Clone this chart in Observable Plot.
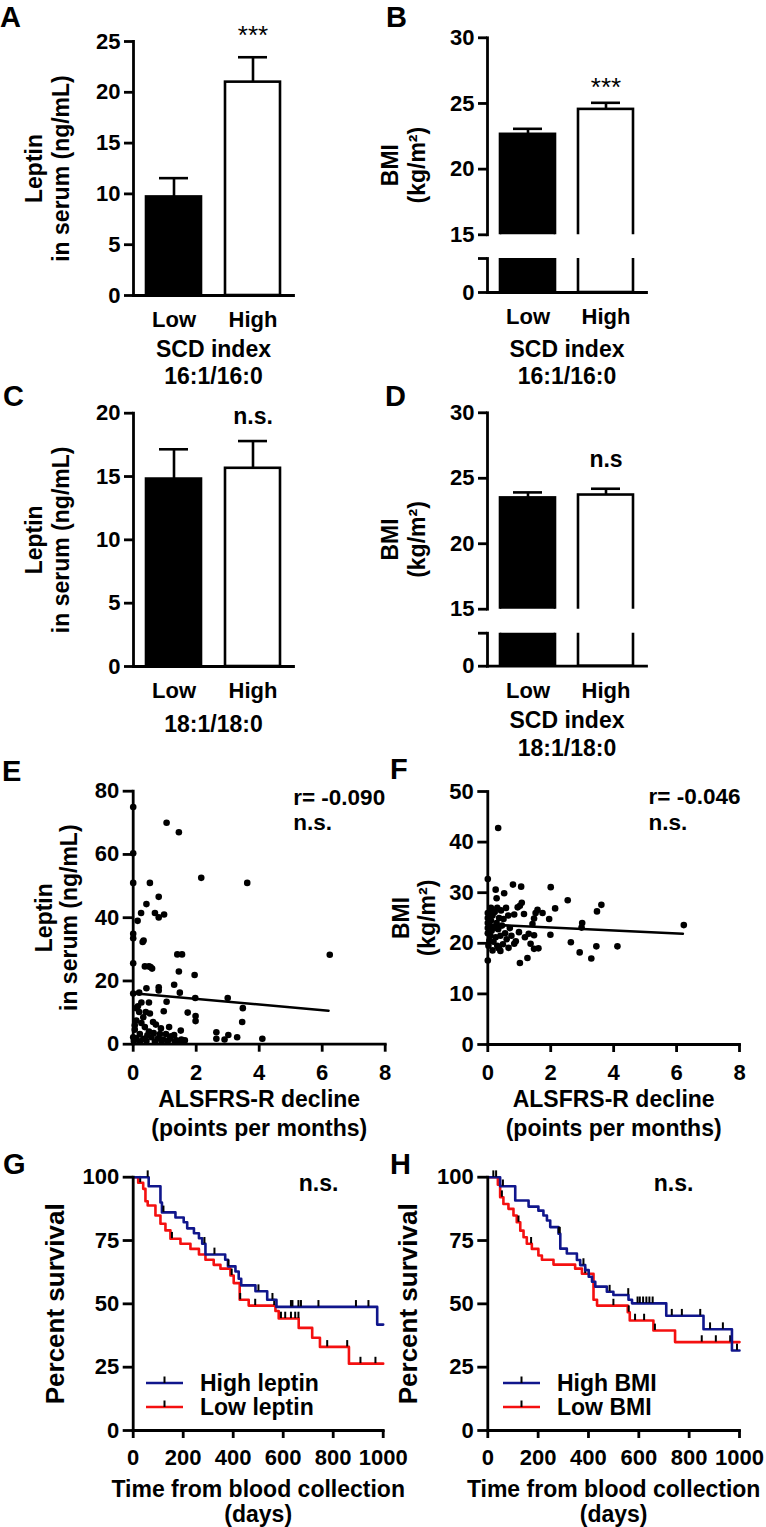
<!DOCTYPE html>
<html><head><meta charset="utf-8">
<script src="https://cdn.jsdelivr.net/npm/d3@7"></script>
<script src="https://cdn.jsdelivr.net/npm/@observablehq/plot@0.6"></script>
<style>
html,body{margin:0;padding:0;background:#fff;}
#fig{position:relative;width:766px;height:1527px;overflow:hidden;font-family:"Liberation Sans",Arial,sans-serif;font-weight:bold;color:#000;background:#fff;}
.panel{position:absolute;}
.panel svg{overflow:visible;background:transparent;max-width:none;}
.letter{position:absolute;font-size:29px;line-height:34px;font-weight:bold;}
.legend{position:absolute;font-size:23px;line-height:24px;font-weight:bold;}
</style></head><body><div id="fig"></div>
<script>
// ---------- data ----------
const groups = ["Low", "High"];
const barFills = ["black", "white"];
const leptin16Mean = [9.7, 21.0];
const leptin16Sem = [1.85, 2.45];
const leptin16Notes = ["", "***"];
const bmi16Mean = [22.65, 24.55];
const bmi16Sem = [0.42, 0.5];
const bmi16Notes = ["", "***"];
const leptin18Mean = [14.8, 15.65];
const leptin18Sem = [2.35, 2.15];
const leptin18Notes = ["", "n.s."];
const bmi18Mean = [23.5, 23.72];
const bmi18Sem = [0.42, 0.48];
const bmi18Notes = ["", "n.s"];
const leptinTicksA = [0, 5, 10, 15, 20, 25];
const leptinTicksC = [0, 5, 10, 15, 20];
const bmiUpperDomain = [15, 30];
const bmiUpperTicks = [15, 20, 25, 30];
const bmiLowerDomain = [0, 2.6];
const bmiLowerTicks = [0, 2.6];

// E: ALSFRS-R decline vs leptin
const eDecline = [0,1.06,1.45,0,0,0.53,2.16,3.62,0.81,0.42,0.25,0.69,0.81,0.98,0.14,0,0,0.3,0.33,0,0.37,0.5,0.6,0.55,1.4,1.55,1.45,1.95,1.3,0.81,0.42,0.81,0.19,0,1.48,1.97,3,0.26,0.5,1.06,3.48,0.1,0.19,0.4,0.53,0.97,1.73,1.98,1.98,3.46,0.1,0.26,0.63,0.72,0.37,1.14,0.05,0.5,1.51,2.64,3.02,0.21,0.85,1.04,1.3,0,0.1,0.32,0.58,0.79,0.95,1.16,1.37,1.53,1.64,2.64,2.9,3.3,4.1,0.02,0.21,0.42,0.69,0.9,1.1,1.32,1.48,6.24,0.15,0.32,0.45,0.65,0.05,1.2,0.88];
const eLeptin = [75,70,67,60.4,51,51,52.6,51,46.6,44.3,41.5,41.5,40.1,41,39,34.9,33.5,32.3,32.8,25.6,24.6,24.6,23.9,24.4,28.4,28.4,23,21.9,18.8,18,17.7,17,16.3,16,16.3,14.6,14.6,13.2,13.2,13.4,11.4,11.4,10.2,10.2,9.7,10.4,10,8.9,7.3,7,7.5,6.7,7,6.2,5.4,5.4,4.6,4,4.3,3.8,2.9,3.2,3.2,3.2,2.9,2.2,1.9,1.7,2.2,1.9,1.5,1.7,1.2,1.5,1.2,1.7,1.5,2.2,1.7,1,0.8,1,0.8,0.8,1,0.8,0.8,28.3,12,8.5,2.8,3.5,6,2.5,5];
const eFitX = [0, 6.2];
const eFitY = [16.1, 10.6];

// F: ALSFRS-R decline vs BMI
const fDecline = [0,0,0.25,0.52,0.8,1.06,2,0.28,2.54,3.61,3.47,2.14,1.02,1.08,0.95,1.58,1.52,1.74,1.47,1.15,0.84,1.95,1.42,3,2.98,0.99,1.3,1.47,1.18,1.99,0.89,0.84,2.64,1.36,1.47,1.61,0.66,0.34,3.45,4.12,2.92,3.29,1.02,1.26,0.15,0.33,6.23,0,0,0,0,0,0.05,0.05,0.08,0.1,0.1,0.12,0.15,0.18,0.2,0.22,0.25,0.28,0.3,0.3,0.33,0.36,0.4,0.42,0.45,0.48,0.5,0.55,0.58,0.6,0.65,0.7,0.75,0.02,0.08,0.35,0.4];
const fBMI = [32.7,16.6,30.6,29.9,31.6,31.2,31.1,28.9,28.5,27.6,26.3,26.9,27.4,28,27.1,26.6,26,26,24.9,25.8,25.7,24.8,23.8,24,23.1,22.2,21.9,21.6,21.2,21.7,20.4,19.9,20.2,19.9,18.9,19,19.1,19.1,19.4,19.4,18.2,17,16.1,17.1,18.6,42.8,23.6,22,23,24,25,26,20.5,23.5,21.5,24.5,27,22.5,25.5,20.3,23,26.2,21.2,24,19.5,27,22.8,25,21.5,26.5,23.5,19.8,24.8,22,27,20.8,25.5,23,21.5,19.5,25.8,19,18.5];
const fFitX = [0, 6.2];
const fFitY = [23.7, 21.9];

// G: survival by leptin
const gSeries = ["High leptin", "Low leptin"];
const gHighT = [0,62,109,115,169,202,216,243,263,276,289,368,379,409,422,432,489,536,573,976,1000];
const gHighS = [100,96.4,90,86.1,84.1,82.2,79.8,77.9,75.9,73.7,69.5,67.4,64.8,62.8,59.9,57.3,55,51.6,48.8,41.8,41.8];
const gHighCens = [58,121,285,325,381,501,557,631,637,661,671,741,891,941];
const gLowT = [0,20,40,49,58,89,109,129,149,189,229,263,289,322,349,389,402,426,462,569,582,662,716,747,863,1000];
const gLowS = [100,97.8,95.4,90.5,88.8,84.9,81.6,79,75.7,73.7,71.7,69.5,67.4,65.4,63.9,61.2,58.2,51.6,49.3,47.2,44.2,40.5,36.6,33,26.4,26.4];
const gLowCens = [28,155,394,428,488,564,591,608,631,648,661,776,856,909,969];

// H: survival by BMI
const hSeries = ["High BMI", "Low BMI"];
const hHighT = [0,49,109,162,201,221,235,248,281,288,314,354,367,387,401,414,427,473,499,559,573,709,857,970,1000];
const hHighS = [100,96.4,90.8,88.4,86.8,84.9,82.9,80.3,77.7,71.8,69.9,67.3,65.3,63.3,60.7,58.7,56.8,54.8,53.5,51.6,50.2,45.3,40,31.6,31.6];
const hHighCens = [22,33,60,282,286,380,484,558,595,604,617,630,642,655,731,771,844,883,934,990];
const hLowT = [0,40,49,62,82,102,115,129,142,155,175,201,215,261,347,374,420,434,556,564,658,744,1000];
const hLowS = [100,97,92.1,89.4,87.5,84.9,82.2,78.9,76.3,73.7,71.7,69.1,67.4,65.5,63.9,61.9,51.6,49.3,46.7,43.4,39.5,34.9,34.9];
const hLowCens = [56,122,172,387,499,560,585,621,664,850,906,963];

const seriesColors = ["#10168c", "#f41010"];
const survTicksX = [0, 200, 400, 600, 800, 1000];
const survTicksY = [0, 25, 50, 75, 100];

// ---------- helpers ----------
const FONT = '"Liberation Sans", Arial, sans-serif';
const fig = document.getElementById("fig");
const AXW = 2.8;
const TICKFONT = 22;
const LABELFONT = 23;
const baseStyle = {fontFamily: FONT, fontWeight: "bold", background: "transparent", overflow: "visible", color: "black"};
const bandX = {type: "band", domain: groups, paddingInner: 0.3, paddingOuter: 0.16};

function place(node, left, top) {
  const d = document.createElement("div");
  d.className = "panel";
  d.style.left = left + "px";
  d.style.top = top + "px";
  d.appendChild(node);
  fig.appendChild(d);
}
// panel letters: line box 34px, cap top sits ~6.2px below the box top
function letter(ch, left, capTop) {
  const d = document.createElement("div");
  d.className = "letter";
  d.textContent = ch;
  d.style.left = left + "px";
  d.style.top = (capTop - 6.2) + "px";
  fig.appendChild(d);
}
function legend(left, top, labels) {
  const d = document.createElement("div");
  d.className = "legend";
  d.style.left = left + "px";
  d.style.top = top + "px";
  labels.forEach((label, i) => {
    const row = document.createElement("div");
    row.style.cssText = "display:flex;align-items:center;height:24px;white-space:nowrap;";
    row.innerHTML = `<svg width="37" height="24" style="overflow:visible"><line x1="0" x2="37" y1="12" y2="12" stroke="${seriesColors[i]}" stroke-width="2.6"/><line x1="18.5" x2="18.5" y1="12" y2="5.5" stroke="black" stroke-width="2"/></svg><span style="margin-left:17px">${label}</span>`;
    d.appendChild(row);
  });
  fig.appendChild(d);
}

function barRows(o) {
  return groups.map((g, i) => ({group: g, mean: o.mean[i], top: o.mean[i] + o.sem[i], fill: barFills[i], note: o.notes[i]}));
}
function errMarks(rows) {
  return [
    Plot.ruleX(rows, {x: "group", y1: "mean", y2: "top", strokeWidth: 2.6}),
    Plot.tickY(rows, {x: "group", y: "top", strokeWidth: 2.6, inset: 13})
  ];
}
function noteMark(rows, o) {
  return Plot.text(rows.filter(d => d.note), {x: "group", y: "top", text: "note", dy: o.noteDy, lineAnchor: "bottom",
    fontSize: o.noteSize, fontWeight: o.noteWeight});
}
function yLabelMark(o, dy = 0) {
  return Plot.text([o.yLabel], {text: d => d, frameAnchor: "left", rotate: -90, dx: o.yLabelDx, dy, textAnchor: "middle",
    lineAnchor: "middle", lineHeight: 1.17, fontSize: LABELFONT});
}
function xLabelMark(o) {
  return Plot.text([o.xLabel], {text: d => d, frameAnchor: "bottom", dy: o.xLabelDy, lineAnchor: "middle",
    lineHeight: 1.19, fontSize: LABELFONT});
}

function barPanel(o) {
  const rows = barRows(o);
  return Plot.plot({
    width: o.width, height: o.height,
    marginLeft: o.mL, marginRight: o.mR, marginTop: o.mT, marginBottom: o.mB,
    x: bandX, y: {domain: [0, o.yMax]}, color: {type: "identity"},
    style: baseStyle,
    marks: [
      ...errMarks(rows),
      Plot.barY(rows, {x: "group", y: "mean", fill: "fill", stroke: "black", strokeWidth: 2.6}),
      Plot.frame({anchor: "left", strokeWidth: AXW}),
      Plot.frame({anchor: "bottom", strokeWidth: AXW}),
      Plot.axisY({ticks: o.ticks, tickSize: 9, tickPadding: 4, fontSize: TICKFONT, strokeWidth: AXW, label: null}),
      Plot.axisX({tickSize: 0, tickPadding: 16, fontSize: TICKFONT, label: null}),
      noteMark(rows, o),
      yLabelMark(o),
      xLabelMark(o)
    ]
  });
}

// Broken y axis: an upper plot (15–30) and a lower plot (0–2.6) stacked in the same box
function brokenBarPanel(o, left, top) {
  const rows = barRows(o);
  const upper = Plot.plot({
    width: o.width, height: o.height,
    marginLeft: o.mL, marginRight: o.mR, marginTop: o.upperTop, marginBottom: o.height - o.upperBottom,
    x: {...bandX, axis: null}, y: {domain: bmiUpperDomain}, color: {type: "identity"},
    style: baseStyle,
    marks: [
      ...errMarks(rows),
      Plot.barY(rows, {x: "group", y: "mean", fill: "fill", stroke: "black", strokeWidth: 2.6, clip: true}),
      Plot.frame({anchor: "left", strokeWidth: AXW}),
      Plot.axisY({ticks: bmiUpperTicks, tickSize: 9, tickPadding: 4, fontSize: TICKFONT, strokeWidth: AXW, label: null}),
      noteMark(rows, o),
      yLabelMark(o, (o.zeroY - o.upperBottom) / 2)
    ]
  });
  const lower = Plot.plot({
    width: o.width, height: o.height,
    marginLeft: o.mL, marginRight: o.mR, marginTop: o.lowerTop, marginBottom: o.height - o.zeroY,
    x: bandX, y: {domain: bmiLowerDomain}, color: {type: "identity"},
    style: baseStyle,
    marks: [
      Plot.barY(rows, {x: "group", y: "mean", fill: "fill", stroke: "black", strokeWidth: 2.6, clip: true}),
      Plot.frame({anchor: "left", strokeWidth: AXW}),
      Plot.frame({anchor: "bottom", strokeWidth: AXW}),
      Plot.axisY({ticks: bmiLowerTicks, tickSize: 9, tickPadding: 4, fontSize: TICKFONT, strokeWidth: AXW, label: null,
        tickFormat: d => d === 0 ? "0" : ""}),
      Plot.axisX({tickSize: 0, tickPadding: 16, fontSize: TICKFONT, label: null}),
      xLabelMark(o)
    ]
  });
  place(lower, left, top);
  place(upper, left, top);
}

function xyPanel(o, marks) {
  return Plot.plot({
    width: o.width, height: o.height,
    marginLeft: o.mL, marginRight: o.mR, marginTop: o.mT, marginBottom: o.mB,
    x: {domain: o.xDomain}, y: {domain: o.yDomain},
    style: baseStyle,
    marks: [
      ...marks,
      Plot.frame({anchor: "left", strokeWidth: AXW, strokeLinecap: "square"}),
      Plot.frame({anchor: "bottom", strokeWidth: AXW, strokeLinecap: "square"}),
      Plot.axisX({ticks: o.xTicks, tickSize: 8, tickPadding: o.xPad, fontSize: o.tickFont, strokeWidth: AXW, label: null,
        tickFormat: d => String(d)}),
      Plot.axisY({ticks: o.yTicks, tickSize: 10, tickPadding: 4, fontSize: o.tickFont, strokeWidth: AXW, label: null,
        tickFormat: d => String(d)}),
      Plot.text([o.xLabel], {text: d => d, frameAnchor: "bottom", dy: o.xLabelDy, lineAnchor: "middle",
        lineHeight: o.xLH, fontSize: LABELFONT}),
      Plot.text([o.yLabel], {text: d => d, frameAnchor: "left", rotate: -90, dx: o.yLabelDx, textAnchor: "middle",
        lineAnchor: "middle", lineHeight: o.yLH, fontSize: o.yFont})
    ]
  });
}

function stepAt(T, S, t) {
  const i = d3.bisectRight(T, t) - 1;
  return S[Math.max(0, i)];
}
function kmMarks(T, S, cens, color) {
  const pts = T.map((t, i) => ({t, s: S[i]}));
  const c = cens.map(t => ({t, s: stepAt(T, S, t)}));
  return [
    Plot.line(pts, {x: "t", y: "s", curve: "step-after", stroke: color, strokeWidth: 2.6}),
    Plot.ruleX(c, {x: "t", y1: "s", y2: d => d.s + 2.5, stroke: "black", strokeWidth: 2})
  ];
}

// ---------- panels ----------
place(barPanel({
  mean: leptin16Mean, sem: leptin16Sem, notes: leptin16Notes, yMax: 25, ticks: leptinTicksA,
  width: 383, height: 390, mL: 133, mR: 90, mT: 41, mB: 95,
  noteDy: -13, noteSize: 26, noteWeight: "normal",
  yLabel: "Leptin\nin serum (ng/mL)", yLabelDx: -86.5,
  xLabel: "SCD index\n16:1/16:0", xLabelDy: 66.5
}), 0, 0);

brokenBarPanel({
  mean: bmi16Mean, sem: bmi16Sem, notes: bmi16Notes,
  width: 383, height: 390, mL: 104, mR: 120,
  upperTop: 37.3, upperBottom: 234.3, lowerTop: 258, zeroY: 292,
  noteDy: -7, noteSize: 26, noteWeight: "normal",
  yLabel: "BMI\n(kg/m²)", yLabelDx: -85,
  xLabel: "SCD index\n16:1/16:0", xLabelDy: 69
}, 383, 0);

place(barPanel({
  mean: leptin18Mean, sem: leptin18Sem, notes: leptin18Notes, yMax: 20, ticks: leptinTicksC,
  width: 383, height: 340, mL: 133, mR: 90, mT: 17.7, mB: 69,
  noteDy: -17.5, noteSize: 23, noteWeight: "bold",
  yLabel: "Leptin\nin serum (ng/mL)", yLabelDx: -86.5,
  xLabel: "18:1/18:0", xLabelDy: 57
}), 0, 395);

brokenBarPanel({
  mean: bmi18Mean, sem: bmi18Sem, notes: bmi18Notes,
  width: 383, height: 365, mL: 104, mR: 120,
  upperTop: 17.3, upperBottom: 213.7, lowerTop: 237.7, zeroY: 270.7,
  noteDy: -22, noteSize: 23, noteWeight: "bold",
  yLabel: "BMI\n(kg/m²)", yLabelDx: -85,
  xLabel: "SCD index\n18:1/18:0", xLabelDy: 67
}, 383, 395);

const eRows = eDecline.map((x, i) => ({x, y: eLeptin[i]}));
const eFit = eFitX.map((x, i) => ({x, y: eFitY[i]}));
place(xyPanel({
  width: 390, height: 400, mL: 132.7, mR: 5.3, mT: 50.7, mB: 96.3,
  xDomain: [0, 8], yDomain: [0, 80], xTicks: [0, 2, 4, 6, 8], yTicks: [0, 20, 40, 60, 80],
  xPad: 12.3, tickFont: TICKFONT,
  xLabel: "ALSFRS-R decline\n(points per months)", xLabelDy: 67.8, xLH: 1.26,
  yLabel: "Leptin\nin serum (ng/mL)", yLabelDx: -77, yLH: 1.09, yFont: LABELFONT
}, [
  Plot.dot(eRows, {x: "x", y: "y", r: 3.3, fill: "black"}),
  Plot.line(eFit, {x: "x", y: "y", stroke: "black", strokeWidth: 2.6}),
  Plot.text(["r= -0.090\nn.s."], {text: d => d, frameAnchor: "top-left", dx: 160, dy: -4.6, textAnchor: "start",
    lineAnchor: "top", lineHeight: 1.12, fontSize: 22.5})
]), 0, 740);

const fRows = fDecline.map((x, i) => ({x, y: fBMI[i]}));
const fFit = fFitX.map((x, i) => ({x, y: fFitY[i]}));
place(xyPanel({
  width: 383, height: 400, mL: 104.3, mR: 27, mT: 51, mB: 96,
  xDomain: [0, 8], yDomain: [0, 50], xTicks: [0, 2, 4, 6, 8], yTicks: [0, 10, 20, 30, 40, 50],
  xPad: 12.3, tickFont: TICKFONT,
  xLabel: "ALSFRS-R decline\n(points per months)", xLabelDy: 67.8, xLH: 1.26,
  yLabel: "BMI\n(kg/m²)", yLabelDx: -74.3, yLH: 1.13, yFont: LABELFONT
}, [
  Plot.dot(fRows, {x: "x", y: "y", r: 3.3, fill: "black"}),
  Plot.line(fFit, {x: "x", y: "y", stroke: "black", strokeWidth: 2.6}),
  Plot.text(["r= -0.046\nn.s."], {text: d => d, frameAnchor: "top-left", dx: 160.7, dy: -5, textAnchor: "start",
    lineAnchor: "top", lineHeight: 1.12, fontSize: 22.5})
]), 383, 740);

place(xyPanel({
  width: 390, height: 387, mL: 132.7, mR: 7.3, mT: 36.7, mB: 97,
  xDomain: [0, 1000], yDomain: [0, 100], xTicks: survTicksX, yTicks: survTicksY,
  xPad: 10.8, tickFont: TICKFONT,
  xLabel: "Time from blood collection\n(days)", xLabelDy: 70.5, xLH: 1.09,
  yLabel: "Percent survival", yLabelDx: -77.7, yLH: 1, yFont: 26
}, [
  ...kmMarks(gLowT, gLowS, gLowCens, seriesColors[1]),
  ...kmMarks(gHighT, gHighS, gHighCens, seriesColors[0]),
  Plot.text(["n.s."], {text: d => d, frameAnchor: "top-left", dx: 185.3, dy: 14, textAnchor: "middle",
    lineAnchor: "bottom", fontSize: 23})
]), 0, 1140);

place(xyPanel({
  width: 383, height: 387, mL: 104.3, mR: 27, mT: 36.7, mB: 97,
  xDomain: [0, 1000], yDomain: [0, 100], xTicks: survTicksX, yTicks: survTicksY,
  xPad: 10.8, tickFont: TICKFONT,
  xLabel: "Time from blood collection\n(days)", xLabelDy: 70.5, xLH: 1.09,
  yLabel: "Percent survival", yLabelDx: -79, yLH: 1, yFont: 26
}, [
  ...kmMarks(hLowT, hLowS, hLowCens, seriesColors[1]),
  ...kmMarks(hHighT, hHighS, hHighCens, seriesColors[0]),
  Plot.text(["n.s."], {text: d => d, frameAnchor: "top-left", dx: 185.7, dy: 14, textAnchor: "middle",
    lineAnchor: "bottom", fontSize: 23})
]), 383, 1140);

legend(146, 1371, gSeries);
legend(503, 1371, hSeries);

letter("A", 0, 6.5);
letter("B", 386, 6.5);
letter("C", 3, 385);
letter("D", 385, 385);
letter("E", 2, 760);
letter("F", 390, 758);
letter("G", 3, 1153);
letter("H", 390, 1153);
</script></body></html>
